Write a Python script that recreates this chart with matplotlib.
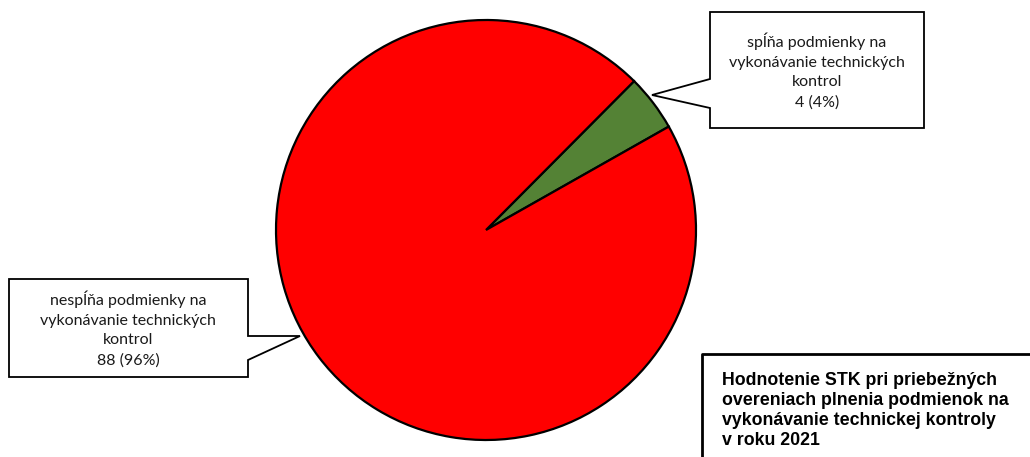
import matplotlib
matplotlib.use('Agg')
import matplotlib.pyplot as plt
from matplotlib.patches import Polygon

# data
categories = ['spĺňa podmienky na\nvykonávanie technických\nkontrol',
              'nespĺňa podmienky na\nvykonávanie technických\nkontrol']
values = [4, 88]
colors = ['#548235', '#FF0000']
title = ('Hodnotenie STK pri priebežných\novereniach plnenia podmienok na\n'
         'vykonávanie technickej kontroly\nv roku 2021')

W, H = 1030, 457
fig = plt.figure(figsize=(W / 100, H / 100), dpi=100)

# pie: center (486,230), radius 210 px
cx, cy, r = 486, 230, 210
ax = fig.add_axes([(cx - r) / W, (H - cy - r) / H, 2 * r / W, 2 * r / H])
ax.pie(values, colors=colors, startangle=29.5, counterclock=True,
       wedgeprops=dict(edgecolor='black', linewidth=1.6))
ax.set_xlim(-1, 1)
ax.set_ylim(-1, 1)
ax.set_aspect('equal')

# overlay in pixel coords for callouts
ov = fig.add_axes([0, 0, 1, 1], zorder=5)
ov.set_xlim(0, W)
ov.set_ylim(H, 0)
ov.axis('off')
ov.patch.set_alpha(0)

total = sum(values)
texts = ['%s\n%d (%d%%)' % (c, v, round(100 * v / total)) for c, v in zip(categories, values)]

# green callout
g = [(710, 12), (924, 12), (924, 128), (710, 128), (710, 108), (652, 95), (710, 79)]
ov.add_patch(Polygon(g, closed=True, facecolor='white', edgecolor='black', lw=1.3))
ov.text(817, 71, texts[0], ha='center', va='center', fontsize=11.5, family='Lato',
        linespacing=1.5, color='#1a1a1a')

# red callout
rd = [(9, 279), (248, 279), (248, 336), (300, 336), (248, 360), (248, 377), (9, 377)]
ov.add_patch(Polygon(rd, closed=True, facecolor='white', edgecolor='black', lw=1.3))
ov.text(128, 329, texts[1], ha='center', va='center', fontsize=11.5, family='Lato',
        linespacing=1.5, color='#1a1a1a')

# title box (clipped by image edge)
ov.plot([702, 702, W + 5], [H + 5, 354, 354], color='black', lw=2, clip_on=False)
ov.text(722, 372, title, ha='left', va='top', fontsize=12.8, fontweight='bold',
        family='Liberation Sans', linespacing=1.22)

fig.savefig('out.png', dpi=100)
